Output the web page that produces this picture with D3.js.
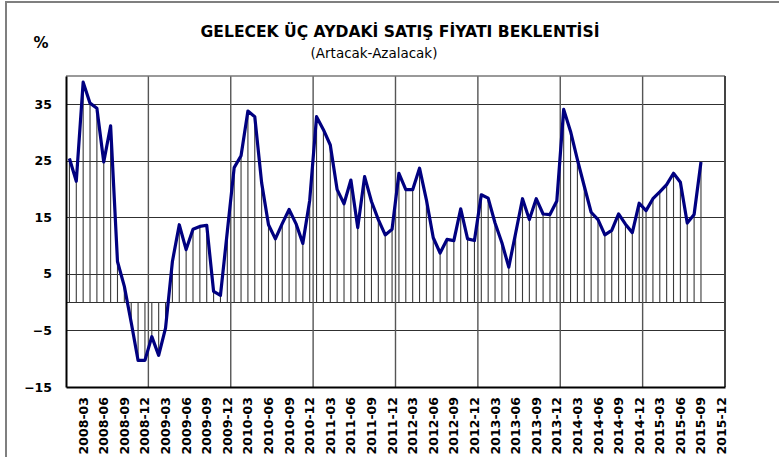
<!DOCTYPE html>
<html>
<head>
<meta charset="utf-8">
<script src="https://cdn.jsdelivr.net/npm/d3@7"></script>
<style>
  body { margin: 0; background: #fff; }
  svg { display: block; }
  text { font-family: "DejaVu Sans", Verdana, sans-serif; }
</style>
</head>
<body>
<div id="chart"></div>
<script>
// monthly categories, 2008-01 .. 2015-12 (axis runs to 2015-12, data ends 2015-09)
const months = d3.timeMonth.range(new Date(2008, 0, 1), new Date(2016, 0, 1))
    .map(d3.timeFormat("%Y-%m"));

// Artacak - Azalacak (%), 2008-01 .. 2015-09
const values = [
    25.4, 21.4, 38.9, 35.2, 34.3, 24.8, 31.2, 7.2, 2.8, -3.6, -10.3, -10.3,
    -6.1, -9.4, -4.6, 7.2, 13.7, 9.3, 12.9, 13.4, 13.6, 1.9, 1.2, 12.5,
    23.8, 25.9, 33.8, 32.8, 21.1, 13.7, 11.2, 13.9, 16.4, 13.9, 10.4, 18.0,
    32.8, 30.5, 27.8, 19.9, 17.4, 21.6, 13.2, 22.2, 17.8, 14.6, 11.9, 12.9,
    22.8, 19.9, 19.9, 23.7, 18.1, 11.4, 8.7, 11.1, 10.9, 16.5, 11.2, 10.9,
    19.0, 18.4, 14.0, 10.5, 6.2, 12.2, 18.3, 14.6, 18.3, 15.6, 15.5, 17.9,
    34.1, 30.2, 25.2, 20.5, 15.9, 14.6, 11.9, 12.7, 15.6, 13.8, 12.3, 17.5,
    16.2, 18.3, 19.5, 20.8, 22.8, 21.2, 14.0, 15.5, 24.8
];

const yTicks = [-15, -5, 5, 15, 25, 35];
const yGrid = [-5, 0, 5, 15, 25, 35];
const xLabels = months.filter(m => /-(03|06|09|12)$/.test(m));
const yearBreaks = months.filter(m => /-12$/.test(m)).slice(0, -1);

const W = 779, H = 457;
const margin = {top: 76, right: 54, bottom: 70, left: 66};

const svg = d3.select("#chart").append("svg")
    .attr("width", W)
    .attr("height", H);

// outer frame
svg.append("rect")
    .attr("x", 6).attr("y", 2)
    .attr("width", 820).attr("height", 500)
    .attr("fill", "#fff")
    .attr("stroke", "#7f7f7f")
    .attr("stroke-width", 2);

const x = d3.scaleBand()
    .domain(months)
    .range([margin.left, W - margin.right])
    .padding(0);

const y = d3.scaleLinear()
    .domain([-15, 40])
    .range([H - margin.bottom, margin.top]);

const cx = d => x(d) + x.bandwidth() / 2;

// horizontal grid
svg.append("g")
    .selectAll("line")
    .data(yGrid)
    .join("line")
    .attr("x1", margin.left).attr("x2", W - margin.right)
    .attr("y1", d => Math.round(y(d)) + 0.5).attr("y2", d => Math.round(y(d)) + 0.5)
    .attr("stroke", "#303030")
    .attr("stroke-width", 1.2);

// vertical grid (year breaks)
svg.append("g")
    .selectAll("line")
    .data(yearBreaks)
    .join("line")
    .attr("x1", d => x(d) + x.bandwidth()).attr("x2", d => x(d) + x.bandwidth())
    .attr("y1", margin.top).attr("y2", H - margin.bottom)
    .attr("stroke", "#555")
    .attr("stroke-width", 1.4);

// drop lines
const pts = values.map((v, i) => ({m: months[i], v: v}));
svg.append("g")
    .selectAll("line")
    .data(pts)
    .join("line")
    .attr("x1", d => cx(d.m)).attr("x2", d => cx(d.m))
    .attr("y1", y(0)).attr("y2", d => y(d.v))
    .attr("stroke", "#3a3a3a")
    .attr("stroke-width", 1.1);

// plot frame
svg.append("line")
    .attr("x1", margin.left).attr("x2", W - margin.right)
    .attr("y1", margin.top).attr("y2", margin.top)
    .attr("stroke", "#777").attr("stroke-width", 1.5);
svg.append("line")
    .attr("x1", W - margin.right).attr("x2", W - margin.right)
    .attr("y1", margin.top).attr("y2", H - margin.bottom)
    .attr("stroke", "#444").attr("stroke-width", 2);

// series line
svg.append("path")
    .datum(pts)
    .attr("fill", "none")
    .attr("stroke", "#000080")
    .attr("stroke-width", 3.2)
    .attr("stroke-linejoin", "round")
    .attr("d", d3.line().x(d => cx(d.m)).y(d => y(d.v)));

// y axis
const yAxis = svg.append("g")
    .attr("transform", `translate(${margin.left},0)`)
    .call(d3.axisLeft(y).tickValues(yTicks).tickSize(0).tickPadding(14));
yAxis.select(".domain").attr("stroke", "#000").attr("stroke-width", 2);
yAxis.selectAll("text")
    .attr("font-family", "DejaVu Sans, sans-serif")
    .attr("font-size", 12.5)
    .attr("font-weight", "bold")
    .attr("fill", "#000");

// x axis
const xAxis = svg.append("g")
    .attr("transform", `translate(0,${H - margin.bottom})`)
    .call(d3.axisBottom(x).tickValues(xLabels).tickSize(0));
xAxis.select(".domain").attr("stroke", "#000").attr("stroke-width", 2);
xAxis.selectAll("text")
    .attr("font-family", "DejaVu Sans, sans-serif")
    .attr("font-size", 12.5)
    .attr("font-weight", "bold")
    .attr("fill", "#000")
    .attr("text-anchor", "end")
    .attr("transform", "rotate(-90)")
    .attr("x", -10)
    .attr("y", 0)
    .attr("dy", "0.36em");

// titles
const title = svg.append("text")
    .attr("x", 400).attr("y", 37)
    .attr("text-anchor", "middle")
    .attr("font-family", "DejaVu Sans, sans-serif")
    .attr("font-weight", "bold")
    .attr("font-size", 14)
    .text("GELECEK ÜÇ AYDAKİ SATIŞ FİYATI BEKLENTİSİ");
const tw = title.node().getComputedTextLength();
title.attr("font-size", 14 * 399 / tw);

const sub = svg.append("text")
    .attr("x", 374).attr("y", 58)
    .attr("text-anchor", "middle")
    .attr("font-family", "DejaVu Sans, sans-serif")
    .attr("font-size", 12)
    .text("(Artacak-Azalacak)");
const sw = sub.node().getComputedTextLength();
sub.attr("font-size", 12 * 127 / sw);

svg.append("text")
    .attr("x", 41).attr("y", 48)
    .attr("text-anchor", "middle")
    .attr("font-family", "DejaVu Sans, sans-serif")
    .attr("font-weight", "bold")
    .attr("font-size", 15)
    .text("%");
</script>
</body>
</html>
